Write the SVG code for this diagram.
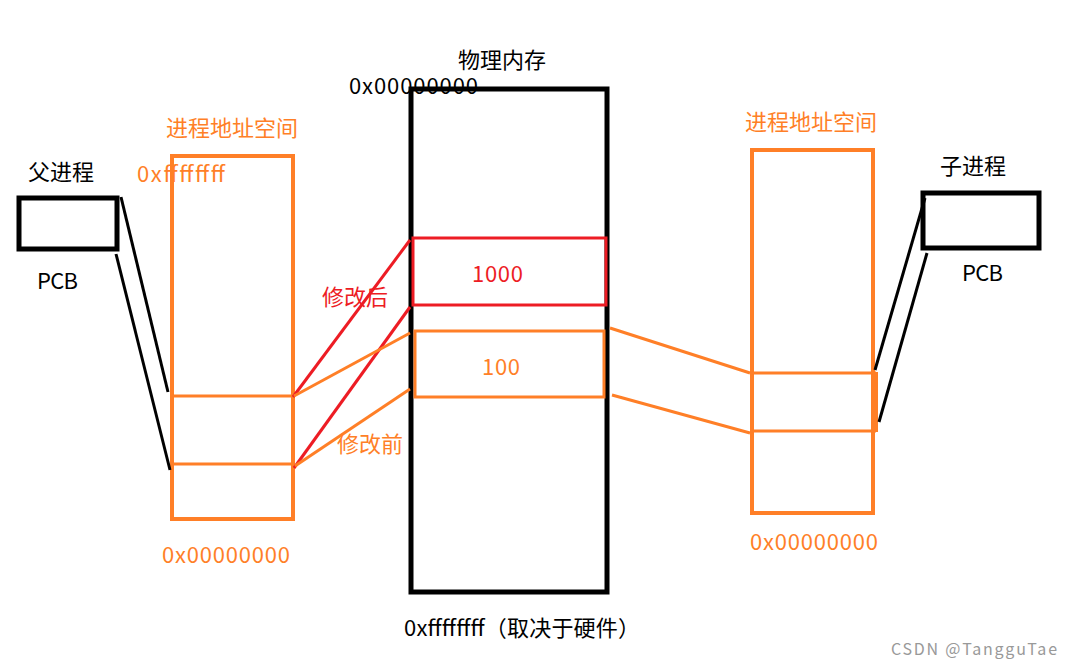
<svg xmlns="http://www.w3.org/2000/svg" width="1071" height="669" viewBox="0 0 1071 669">
<style>
text{font-family:"Noto Sans CJK SC","Noto Sans",sans-serif;font-size:22px}
.k{fill:#000}.o{fill:#ff7f27}.r{fill:#ed1c24}
.bo{fill:none;stroke:#000;stroke-width:5}
.oo{fill:none;stroke:#ff7f27;stroke-width:4}
.ol{stroke:#ff7f27;stroke-width:3;fill:none}
.rl{stroke:#ed1c24;stroke-width:3;fill:none}
.kl{stroke:#000;stroke-width:3;fill:none}
</style>
<rect width="1071" height="669" fill="#fff"/>
<g id="parent-pcb">
<text class="k" x="28" y="180">父进程</text>
<rect class="bo" x="19" y="198" width="98" height="51"/>
<text class="k" x="37" y="289" textLength="41">PCB</text>
</g>
<g id="parent-space">
<text class="o" x="166" y="136">进程地址空间</text>
<rect class="oo" x="172" y="156" width="121" height="363"/>
<line class="ol" x1="172" y1="396" x2="293" y2="396"/>
<line class="ol" x1="172" y1="464" x2="293" y2="464"/>
<text class="o" x="137" y="182" textLength="88">0xffffffff</text>
<text class="o" x="162" y="563" textLength="128">0x00000000</text>
</g>
<g id="physical-memory">
<text class="k" x="458" y="68">物理内存</text>
<rect class="bo" x="411" y="89" width="196" height="503"/>
<text class="k" x="349" y="94" textLength="129">0x00000000</text>
<text class="k" x="404" y="636" textLength="236">0xffffffff（取决于硬件）</text>
</g>
<g id="page-1000">
<rect x="413" y="238" width="193" height="67" fill="none" stroke="#ed1c24" stroke-width="3"/>
<text class="r" x="472" y="282" textLength="51">1000</text>
</g>
<g id="page-100">
<rect x="415" y="331" width="189" height="66" fill="none" stroke="#ff7f27" stroke-width="3"/>
<text class="o" x="482" y="375" textLength="38">100</text>
</g>
<g id="child-space">
<text class="o" x="745" y="130">进程地址空间</text>
<rect class="oo" x="752" y="150" width="121" height="363"/>
<line class="ol" x1="752" y1="373" x2="876" y2="373"/>
<line class="ol" x1="752" y1="431" x2="876" y2="431"/>
<rect x="873" y="372" width="5" height="60" fill="#ff7f27"/>
<text class="o" x="750" y="550" textLength="128">0x00000000</text>
</g>
<g id="child-pcb">
<text class="k" x="940" y="174">子进程</text>
<rect class="bo" x="923" y="193" width="116" height="55"/>
<text class="k" x="962" y="281" textLength="41">PCB</text>
</g>
<g id="connectors">
<line class="kl" x1="121" y1="197" x2="168" y2="392"/>
<line class="kl" x1="116" y1="254" x2="170" y2="470"/>
<line class="rl" x1="293" y1="397" x2="410" y2="240"/>
<line class="rl" x1="294" y1="468" x2="410" y2="307"/>
<line class="ol" x1="294" y1="396" x2="410" y2="333"/>
<line class="ol" x1="295" y1="466" x2="410" y2="389"/>
<line class="ol" x1="610" y1="328" x2="750" y2="373"/>
<line class="ol" x1="612" y1="395" x2="750" y2="433"/>
<line class="kl" x1="925" y1="198" x2="875" y2="370"/>
<line class="kl" x1="927" y1="253" x2="879" y2="422"/>
<text class="r" x="322" y="305">修改后</text>
<text class="o" x="337" y="452">修改前</text>
</g>
<text x="891" y="655" textLength="166" style="font-size:16px;fill:#999">CSDN @TangguTae</text>
</svg>
